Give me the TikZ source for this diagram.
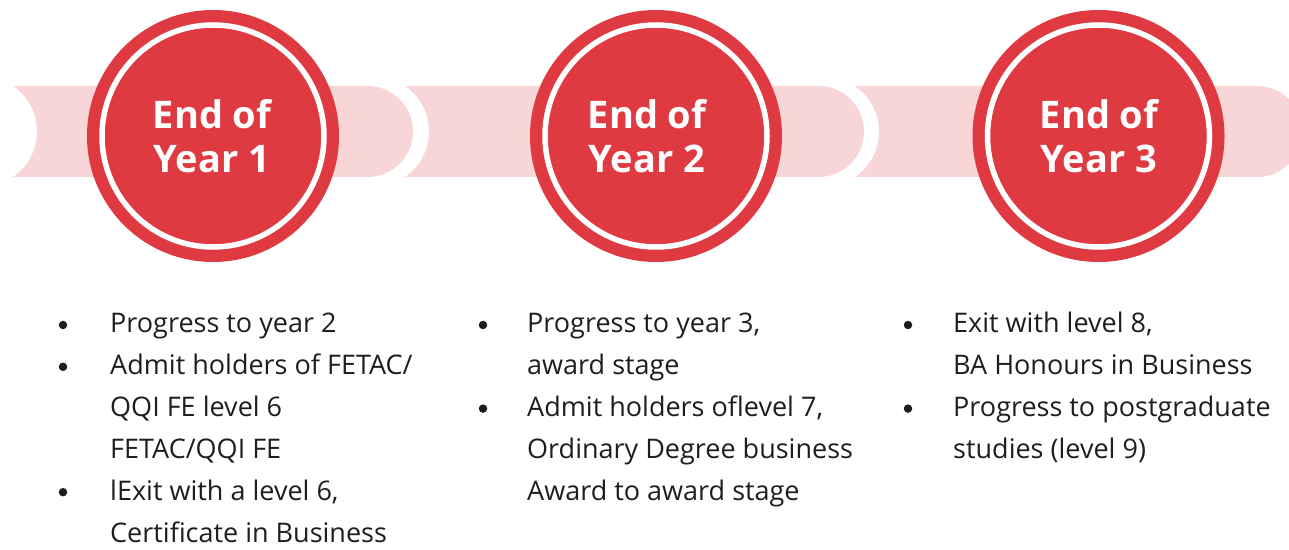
\documentclass[tikz,border=0pt]{standalone}
\usepackage{fontspec}
\setmainfont{Open Sans}
\definecolor{stagered}{HTML}{DF3A41}
\definecolor{bandpink}{HTML}{F8D6D8}
\definecolor{bodyink}{HTML}{1E1E1E}
\begin{document}
\begin{tikzpicture}[x=1pt,y=1pt,
  band/.style={fill=bandpink},
  yearcircle/.style={circle,fill=stagered,minimum size=252pt,inner sep=0pt},
  yeartitle/.style={text=white,align=center,inner sep=0pt,
    font=\fontsize{38}{44}\selectfont\bfseries},
  ring/.style={draw=white,line width=5.5pt},
  itemline/.style={anchor=base west,inner sep=0pt,text=bodyink,
    font=\fontsize{27}{34}\selectfont},
  dot/.style={circle,fill=bodyink,minimum size=8.5pt,inner sep=0pt}]
\useasboundingbox (0,0) rectangle (1289,549);
\clip (0,0) rectangle (1289,549);

% pink band segments, each with a concave left end and a round right end
\fill[band] (13,463) -- (367.5,463) arc[start angle=90,end angle=-90,radius=45.5]
  -- (13,372) arc[start angle=-55.8,end angle=55.8,radius=55] -- cycle;
\fill[band] (405,463) -- (818.5,463) arc[start angle=90,end angle=-90,radius=45.5]
  -- (405,372) arc[start angle=-55.8,end angle=55.8,radius=55] -- cycle;
\fill[band] (855,463) -- (1257,463) arc[start angle=90,end angle=-90,radius=45.5]
  -- (855,372) arc[start angle=-55.8,end angle=55.8,radius=55] -- cycle;

% stage circles with their titles
\node[yearcircle] (y1) at (213,413) {};
\node[yearcircle] (y2) at (656,413) {};
\node[yearcircle] (y3) at (1098.5,413) {};
\foreach \c in {y1,y2,y3} \draw[ring] (\c.center) circle[radius=111];
\node[yeartitle] (n1) at (212,413) {End of\\Year 1};
\node[yeartitle] (n2) at (647,413) {End of\\Year 2};
\node[yeartitle] (n3) at (1099,413) {End of\\Year 3};

% first column
\node[dot] (b11) at (63,224) {};
\node[itemline] (t11) at (110,216) {Progress to year 2};
\node[dot] (b12) at (63,182.2) {};
\node[itemline] (t12) at (110,174.2) {Admit holders of FETAC/};
\node[itemline] (t13) at (110,132.4) {QQI FE level 6};
\node[itemline] (t14) at (110,90.6) {FETAC/QQI FE};
\node[dot] (b13) at (63,56.8) {};
\node[itemline] (t15) at (110,48.8) {lExit with a level 6,};
\node[itemline] (t16) at (110,7) {Certificate in Business};

% second column
\node[dot] (b21) at (483,224) {};
\node[itemline] (t21) at (527,216) {Progress to year 3,};
\node[itemline] (t22) at (527,174.2) {award stage};
\node[dot] (b22) at (483,140.4) {};
\node[itemline] (t23) at (527,132.4) {Admit holders oflevel 7,};
\node[itemline] (t24) at (527,90.6) {Ordinary Degree business};
\node[itemline] (t25) at (527,48.8) {Award to award stage};

% third column
\node[dot] (b31) at (908,224) {};
\node[itemline] (t31) at (953,216) {Exit with level 8,};
\node[itemline] (t32) at (953,174.2) {BA Honours in Business};
\node[dot] (b32) at (908,140.4) {};
\node[itemline] (t33) at (953,132.4) {Progress to postgraduate};
\node[itemline] (t34) at (953,90.6) {studies (level 9)};
\end{tikzpicture}
\end{document}
